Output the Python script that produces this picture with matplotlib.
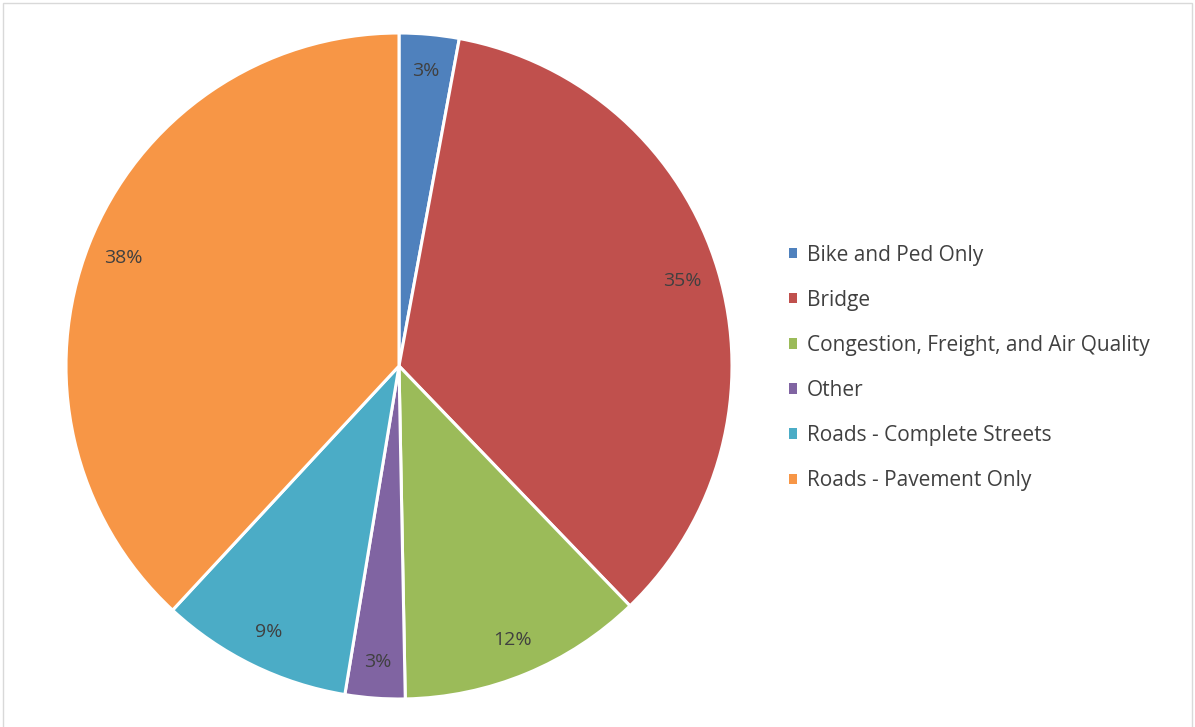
import matplotlib
matplotlib.use("Agg")
import matplotlib.pyplot as plt
from matplotlib.patches import Patch, Rectangle

plt.rcParams['font.family'] = ['Open Sans', 'DejaVu Sans']

categories = ["Bike and Ped Only", "Bridge", "Congestion, Freight, and Air Quality",
              "Other", "Roads - Complete Streets", "Roads - Pavement Only"]
shares = [2.9, 34.9, 11.9, 2.9, 9.3, 38.1]
labels = ["3%", "35%", "12%", "3%", "9%", "38%"]
colors = ["#4F81BD", "#C0504D", "#9BBB59", "#8064A2", "#4BACC6", "#F79646"]

W, H = 1195, 727
fig = plt.figure(figsize=(W / 100, H / 100), dpi=100)

# pie centre ~ (399, 366) px, radius ~333 px
cx, cy, r = 399, 366, 333
ax = fig.add_axes([(cx - r) / W, (H - cy - r) / H, 2 * r / W, 2 * r / H])
wedges, texts = ax.pie(shares, colors=colors, startangle=90, counterclock=False,
                       labels=labels, labeldistance=0.89,
                       wedgeprops=dict(edgecolor="white", linewidth=2.2))
for t in texts:
    t.set_fontsize(14)
    t.set_color("#404040")
    t.set_ha("center")
    t.set_va("center")
ax.set_xlim(-1, 1)
ax.set_ylim(-1, 1)
ax.set_aspect("equal")
ax.axis("off")

handles = [Patch(facecolor=c, edgecolor="none") for c in colors]
fig.legend(handles, categories, loc="upper left",
           bbox_to_anchor=(789 / W, 1 - 244.5 / H), frameon=False,
           fontsize=15, labelcolor="#404040", handlelength=0.4, handleheight=0.4,
           handletextpad=0.45, labelspacing=1.16, borderpad=0, borderaxespad=0)

fig.patches.append(Rectangle((3 / W, -0.01), (1192 - 3) / W, 1.01 - 3 / H,
                             transform=fig.transFigure, fill=False,
                             edgecolor="#d9d9d9", linewidth=1))

fig.savefig("out.png", dpi=100, facecolor="white")
